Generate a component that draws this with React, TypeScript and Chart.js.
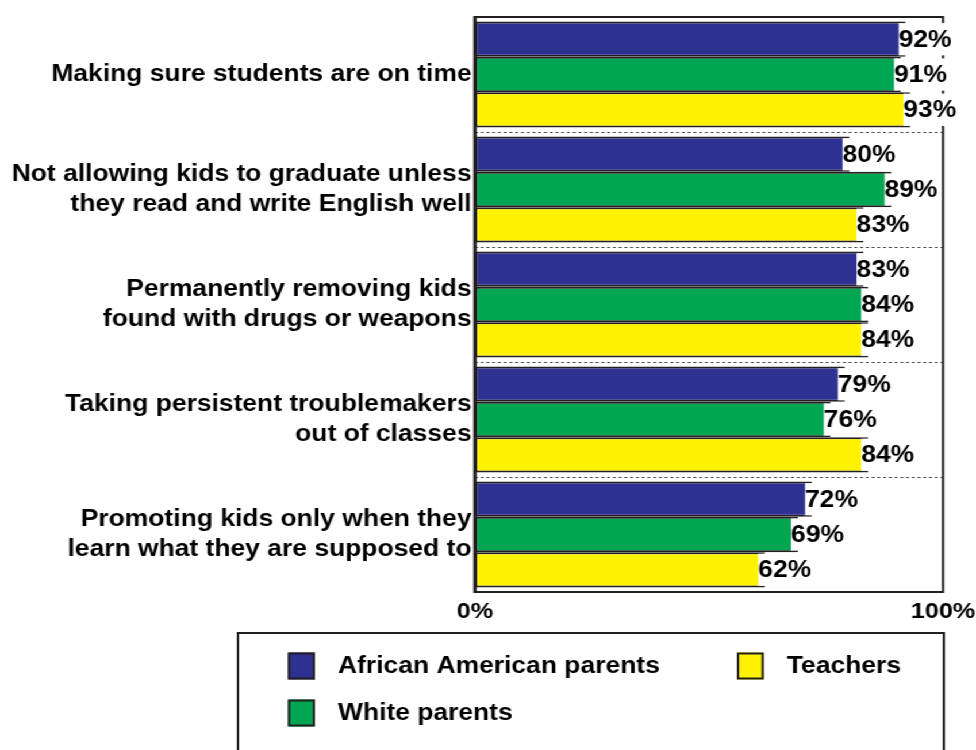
import React, { useEffect, useRef } from "react";
import { Chart, registerables } from "chart.js";

Chart.register(...registerables);

// ---- data ----
const categories: string[][] = [
  ["Making sure students are on time"],
  ["Not allowing kids to graduate unless", "they read and write English well"],
  ["Permanently removing kids", "found with drugs or weapons"],
  ["Taking persistent troublemakers", "out of classes"],
  ["Promoting kids only when they", "learn what they are supposed to"],
];
const africanAmericanParents = [92, 80, 83, 79, 72];
const whiteParents = [91, 89, 84, 76, 69];
const teachers = [93, 83, 84, 84, 62];
const seriesNames = ["African American parents", "White parents", "Teachers"];
const axisTicks = [0, 100];

// ---- styles ----
const COLORS = ["#2E3192", "#00A651", "#FFF200"];
const EDGE = "#231F20";
const FONT = "'Liberation Sans', Arial, Helvetica, sans-serif";
const CW = 849; // internal canvas width (stretched horizontally to 976)
const CH = 750;
const SX = 976 / CW;

const framePlugin = {
  id: "frameAndLabels",
  beforeDatasetsDraw(chart: any) {
    const { ctx, chartArea: a } = chart;
    const y = chart.scales.y;
    ctx.save();
    ctx.strokeStyle = "#444";
    ctx.lineWidth = 1;
    ctx.setLineDash([2.5, 2.5]);
    for (let i = 0; i < categories.length - 1; i++) {
      const yy = Math.round((y.getPixelForValue(i) + y.getPixelForValue(i + 1)) / 2) + 0.5;
      ctx.beginPath();
      ctx.moveTo(a.left, yy);
      ctx.lineTo(a.right, yy);
      ctx.stroke();
    }
    ctx.restore();
  },
  afterDatasetsDraw(chart: any) {
    const { ctx, chartArea: a } = chart;
    ctx.save();
    ctx.strokeStyle = EDGE;
    ctx.lineWidth = 2;
    ctx.beginPath();
    ctx.moveTo(a.left - 1, a.top);
    ctx.lineTo(a.right + 1, a.top);
    ctx.moveTo(a.right, a.top);
    ctx.lineTo(a.right, a.bottom);
    ctx.moveTo(a.left - 1, a.bottom);
    ctx.lineTo(a.right + 1, a.bottom);
    ctx.stroke();
    ctx.lineWidth = 3;
    ctx.beginPath();
    ctx.moveTo(a.left, a.top - 1);
    ctx.lineTo(a.left, a.bottom + 1);
    ctx.stroke();

    // value labels
    ctx.font = `bold 23px ${FONT}`;
    ctx.textBaseline = "middle";
    ctx.textAlign = "left";
    chart.data.datasets.forEach((ds: any, di: number) => {
      const meta = chart.getDatasetMeta(di);
      meta.data.forEach((el: any, i: number) => {
        const txt = `${ds.data[i]}%`;
        const w = ctx.measureText(txt).width;
        const lx = el.x - 6;
        const h = el.height - 3;
        ctx.fillStyle = "#ffffff";
        ctx.fillRect(lx, el.y - h / 2, w + 1, h);
        ctx.fillStyle = "#000";
        ctx.fillText(txt, lx, el.y + 1);
      });
    });
    ctx.restore();
  },
  afterDraw(chart: any) {
    const { ctx } = chart;
    ctx.save();
    // legend box
    ctx.strokeStyle = EDGE;
    ctx.lineWidth = 2;
    ctx.strokeRect(207, 633, 614, 140);
    const items = [
      { x: 250.5, yc: 666 },
      { x: 250.5, yc: 713 },
      { x: 641, yc: 666 },
    ];
    ctx.font = `bold 23px ${FONT}`;
    ctx.textBaseline = "middle";
    ctx.textAlign = "left";
    items.forEach((it, i) => {
      ctx.fillStyle = COLORS[i];
      ctx.fillRect(it.x, it.yc - 13.5, 23.5, 27);
      ctx.lineWidth = 2;
      ctx.strokeStyle = EDGE;
      ctx.strokeRect(it.x + 1, it.yc - 12.5, 21.5, 25);
      ctx.fillStyle = "#000";
      ctx.fillText(seriesNames[i], it.x + 43.5, it.yc + 1);
    });
    ctx.restore();
  },
};

export default function App() {
  const ref = useRef<HTMLCanvasElement | null>(null);
  useEffect(() => {
    if (!ref.current) return;
    const series = [africanAmericanParents, whiteParents, teachers];
    const chart = new Chart(ref.current, {
      type: "bar",
      data: {
        labels: categories,
        datasets: series.map((d, i) => ({
          label: seriesNames[i],
          data: d,
          backgroundColor: COLORS[i],
          borderColor: EDGE,
          borderWidth: 2,
          borderSkipped: false,
          categoryPercentage: 0.92,
          barPercentage: 1.0,
        })),
      },
      options: {
        indexAxis: "y",
        responsive: false,
        animation: false,
        devicePixelRatio: 1,
        layout: { padding: { top: 17, right: 28.7, bottom: 0, left: 0 } },
        plugins: {
          legend: { display: false },
          tooltip: { enabled: false },
        },
        scales: {
          x: {
            min: axisTicks[0],
            max: axisTicks[axisTicks.length - 1],
            afterBuildTicks: (s: any) => {
              s.ticks = axisTicks.map((v) => ({ value: v }));
            },
            afterFit: (s: any) => {
              s.height = 158;
              s.paddingLeft = 0;
              s.paddingRight = 0;
            },
            grid: { display: false, drawTicks: false },
            border: { display: false },
            ticks: {
              padding: 7,
              color: "#000",
              font: { family: FONT, size: 22, weight: "bold" },
              callback: (v: any) => `${v}%`,
              maxRotation: 0,
            },
          },
          y: {
            afterFit: (s: any) => {
              s.width = 413.2;
              s.paddingTop = 0;
              s.paddingBottom = 0;
            },
            grid: { display: false, drawTicks: false },
            border: { display: false },
            ticks: {
              padding: 3,
              color: "#000",
              autoSkip: false,
              font: { family: FONT, size: 23, weight: "bold", lineHeight: 1.3 },
            },
          },
        },
      },
      plugins: [framePlugin],
    } as any);
    return () => chart.destroy();
  }, []);

  return (
    <div
      style={{
        position: "absolute",
        left: 0,
        top: 0,
        width: CW,
        height: CH,
        transform: `scaleX(${SX})`,
        transformOrigin: "0 0",
        background: "#fff",
      }}
    >
      <canvas ref={ref} width={CW} height={CH} style={{ display: "block" }} />
    </div>
  );
}
